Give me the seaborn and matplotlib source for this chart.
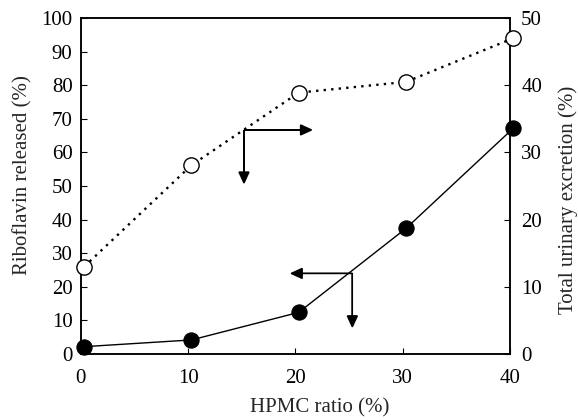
import numpy as np
import pandas as pd
import matplotlib
matplotlib.use('Agg')
import matplotlib.pyplot as plt
import seaborn as sns

# HPMC ratio (%) as plotted (points sit slightly right of the ticks)
hpmc_ratio = [0.3, 10.3, 20.3, 30.3, 40.3]
riboflavin_released = [2.2, 4.2, 12.4, 37.4, 67.2]      # left axis, filled
urinary_excretion = [13.0, 28.1, 38.9, 40.5, 47.0]      # right axis, open

x_ticks = [0, 10, 20, 30, 40]
left_ticks = list(range(0, 101, 10))
right_ticks = list(range(0, 51, 10))

# L-shaped axis pointers (left-axis data units): corner, horizontal end, vertical end
pointer_open = [(15.2, 66.7), (21.5, 66.7), (15.2, 50.9)]
pointer_filled = [(25.3, 24.0), (19.6, 24.0), (25.3, 8.1)]

sns.set_style('ticks')
plt.rcParams['font.family'] = ['Liberation Serif', 'DejaVu Serif']
fs = 15

df = pd.DataFrame({'hpmc': hpmc_ratio,
                   'released': riboflavin_released,
                   'urinary': urinary_excretion})

fig, ax = plt.subplots(figsize=(5.78, 4.2), dpi=100)
fig.subplots_adjust(left=0.140, right=0.8824, top=0.957, bottom=0.157)
ax2 = ax.twinx()

sns.lineplot(data=df, x='hpmc', y='released', ax=ax, color='black',
             linewidth=1.0, marker='o', markersize=11,
             markerfacecolor='black', markeredgecolor='black',
             estimator=None, sort=False, clip_on=False, zorder=3)
sns.lineplot(data=df, x='hpmc', y='urinary', ax=ax2, color='black',
             linewidth=1.7, linestyle=(0, (1, 2.2)), marker='o',
             markersize=11, markerfacecolor='white', markeredgecolor='black',
             markeredgewidth=1.0, estimator=None, sort=False,
             clip_on=False, zorder=3)

ax.set_xlim(0, 40)
ax.set_ylim(0, 100)
ax2.set_ylim(0, 50)
ax.set_xticks(x_ticks)
ax.set_yticks(left_ticks)
ax2.set_yticks(right_ticks)

for a in (ax, ax2):
    for s in a.spines.values():
        s.set_visible(True)
        s.set_linewidth(1.1)
        s.set_color('black')

ax.tick_params(axis='x', direction='in', length=4, width=0.8, pad=11,
               labelsize=fs, colors='black')
ax.tick_params(axis='y', direction='in', length=4, width=0.8, pad=6,
               labelsize=fs, colors='black')
ax2.tick_params(axis='y', direction='in', length=4, width=0.8, pad=8,
                labelsize=fs, colors='black')

ax.set_xlabel('HPMC ratio (%)', fontsize=fs)
ax.set_ylabel('Riboflavin released (%)', fontsize=fs)
ax2.set_ylabel('Total urinary excretion (%)', fontsize=fs)
ax.xaxis.set_label_coords(0.557, -0.13)
ax.yaxis.set_label_coords(-0.112, 0.533)
ax2.yaxis.set_label_coords(1.112, 0.458)

# arrow heads about 11 px long and 10 px wide; convert to data units per direction
px_x = 40 / (0.8824 - 0.140) / 578
px_y = 100 / (0.957 - 0.157) / 420
for corner, h_end, v_end in (pointer_open, pointer_filled):
    cx, cy = corner
    ax.arrow(cx, cy, h_end[0] - cx, 0, width=0, head_width=10 * px_y,
             head_length=11 * px_x, length_includes_head=True,
             fc='black', ec='black', lw=1.0, zorder=4)
    ax.arrow(cx, cy, 0, v_end[1] - cy, width=0, head_width=10 * px_x,
             head_length=11 * px_y, length_includes_head=True,
             fc='black', ec='black', lw=1.0, zorder=4)

fig.savefig('out.png', dpi=100)
